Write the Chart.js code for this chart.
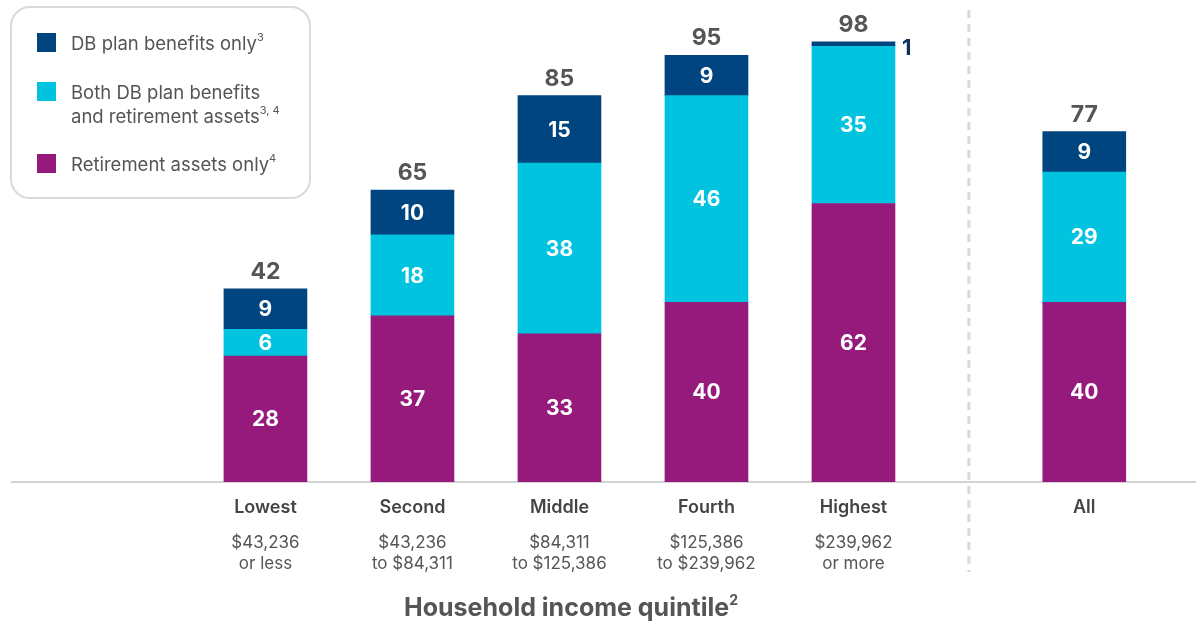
<!DOCTYPE html>
<html>
<head>
<meta charset="utf-8">
<script src="https://cdn.jsdelivr.net/npm/chart.js@4.4.1/dist/chart.umd.min.js"></script>
<style>
  html, body { margin: 0; padding: 0; background: #fff; }
  #wrap { position: relative; width: 1196px; height: 622px; font-family: Inter, "Open Sans", sans-serif; }
  #chart { position: absolute; left: 0; top: 0; }
  #legend {
    position: absolute; left: 10px; top: 6px; width: 301px; height: 193px;
    border: 2px solid #d9d9d9; border-radius: 20px; box-sizing: border-box;
    color: #555; font-size: 18.5px; line-height: 24px;
  }
  .item { position: absolute; left: 59px; }
  .swatch { position: absolute; left: -34px; top: 2px; width: 19px; height: 19px; }
  sup { font-size: 11px; vertical-align: top; line-height: 12px; }
  #xtitle {
    position: absolute; left: 0; width: 1142px; top: 592px; text-align: center;
    font-weight: 700; font-size: 25px; color: #555;
  }
  #xtitle sup { font-size: 14px; line-height: 16px; }
</style>
</head>
<body>
<div id="wrap">
  <canvas id="chart" width="1196" height="622"></canvas>
  <div id="legend"></div>
  <div id="xtitle">Household income quintile<sup>2</sup></div>
</div>
<script>
// ── Data ──────────────────────────────────────────────────────────────────────
const categories     = ["Lowest", "Second", "Middle", "Fourth", "Highest", "All"];
const incomeRanges   = [
  ["$43,236", "or less"],
  ["$43,236", "to $84,311"],
  ["$84,311", "to $125,386"],
  ["$125,386", "to $239,962"],
  ["$239,962", "or more"],
  [""]
];
// "All" sits a bit further right, past the divider
const xPositions     = [0, 1, 2, 3, 4, 5.57];
const retirementOnly = [28, 37, 33, 40, 62, 40];
const bothPlans      = [6, 18, 38, 46, 35, 29];
const dbOnly         = [9, 10, 15, 9, 1, 9];
const totals         = [42, 65, 85, 95, 98, 77];

const seriesNames  = ["Retirement assets only", "Both DB plan benefits and retirement assets", "DB plan benefits only"];
const seriesColors = ["#951a7b", "#00c4df", "#00457f"];

const FONT = "Inter, 'Open Sans', sans-serif";

// ── HTML legend (top-left box) ────────────────────────────────────────────────
document.getElementById("legend").innerHTML = `
  <div class="item" style="top:23px"><span class="swatch" style="background:${seriesColors[2]}"></span>DB plan benefits only<sup>3</sup></div>
  <div class="item" style="top:72px"><span class="swatch" style="background:${seriesColors[1]}"></span>Both DB plan benefits<br>and retirement assets<sup>3, 4</sup></div>
  <div class="item" style="top:144px"><span class="swatch" style="background:${seriesColors[0]}"></span>Retirement assets only<sup>4</sup></div>`;

// ── Helpers ───────────────────────────────────────────────────────────────────
const toPoints = arr => arr.map((v, i) => ({ x: xPositions[i], y: v }));
const setTicks = axis => { axis.ticks = xPositions.map(v => ({ value: v })); };

// Divider between quintiles and "All"
const dividerPlugin = {
  id: "divider",
  beforeDatasetsDraw(chart) {
    const ctx = chart.ctx;
    const x = chart.scales.x.getPixelForValue((xPositions[4] + xPositions[5]) / 2);
    ctx.save();
    ctx.strokeStyle = "#dadada";
    ctx.lineWidth = 3;
    ctx.setLineDash([8, 6]);
    ctx.beginPath();
    ctx.moveTo(x, 10);
    ctx.lineTo(x, 572);
    ctx.stroke();
    ctx.restore();
  }
};

// Segment values + totals
const labelPlugin = {
  id: "barLabels",
  afterDatasetsDraw(chart) {
    const ctx = chart.ctx;
    ctx.save();
    ctx.textBaseline = "middle";
    chart.data.datasets.forEach((ds, di) => {
      chart.getDatasetMeta(di).data.forEach((bar, i) => {
        const v = ds.data[i].y;
        const p = bar.getProps(["x", "y", "base", "width"], true);
        if (v < 3) {
          ctx.fillStyle = "#10325a";
          ctx.textAlign = "left";
          ctx.font = `700 22px ${FONT}`;
          ctx.fillText(v, p.x + p.width / 2 + 7, (p.y + p.base) / 2 + 4);
        } else {
          ctx.fillStyle = "#fff";
          ctx.textAlign = "center";
          ctx.font = `700 21px ${FONT}`;
          ctx.fillText(v, p.x, (p.y + p.base) / 2 + 1);
        }
      });
    });
    const topMeta = chart.getDatasetMeta(chart.data.datasets.length - 1);
    topMeta.data.forEach((bar, i) => {
      ctx.fillStyle = "#555";
      ctx.textAlign = "center";
      ctx.font = `700 23px ${FONT}`;
      ctx.fillText(totals[i], bar.x, bar.y - 17);
    });
    ctx.restore();
  }
};

new Chart(document.getElementById("chart").getContext("2d"), {
  type: "bar",
  data: {
    datasets: [retirementOnly, bothPlans, dbOnly].map((arr, k) => ({
      label: seriesNames[k],
      data: toPoints(arr),
      backgroundColor: seriesColors[k],
      borderWidth: 0,
      barThickness: 83
    }))
  },
  options: {
    responsive: false,
    animation: false,
    layout: { padding: { left: 12, right: 0, top: 0, bottom: 49 } },
    plugins: { legend: { display: false }, tooltip: { enabled: false } },
    scales: {
      x: {
        type: "linear", stacked: true, offset: false,
        min: -1.724, max: 6.33,
        grid: { display: false },
        border: { display: true, color: "#d3d3d3", width: 2 },
        afterBuildTicks: setTicks,
        ticks: {
          autoSkip: false, maxRotation: 0, padding: 7,
          color: "#444", font: { family: FONT, size: 18, weight: "600" },
          callback: (v, i) => categories[i]
        }
      },
      x2: {
        type: "linear", position: "bottom", offset: false,
        min: -1.724, max: 6.33,
        grid: { display: false },
        border: { display: false },
        afterBuildTicks: setTicks,
        ticks: {
          autoSkip: false, maxRotation: 0, padding: -1,
          color: "#555", font: { family: FONT, size: 17, lineHeight: 1.22 },
          callback: (v, i) => incomeRanges[i]
        }
      },
      y: { display: false, stacked: true, min: 0, max: 107.3 }
    }
  },
  plugins: [dividerPlugin, labelPlugin]
});
</script>
</body>
</html>
